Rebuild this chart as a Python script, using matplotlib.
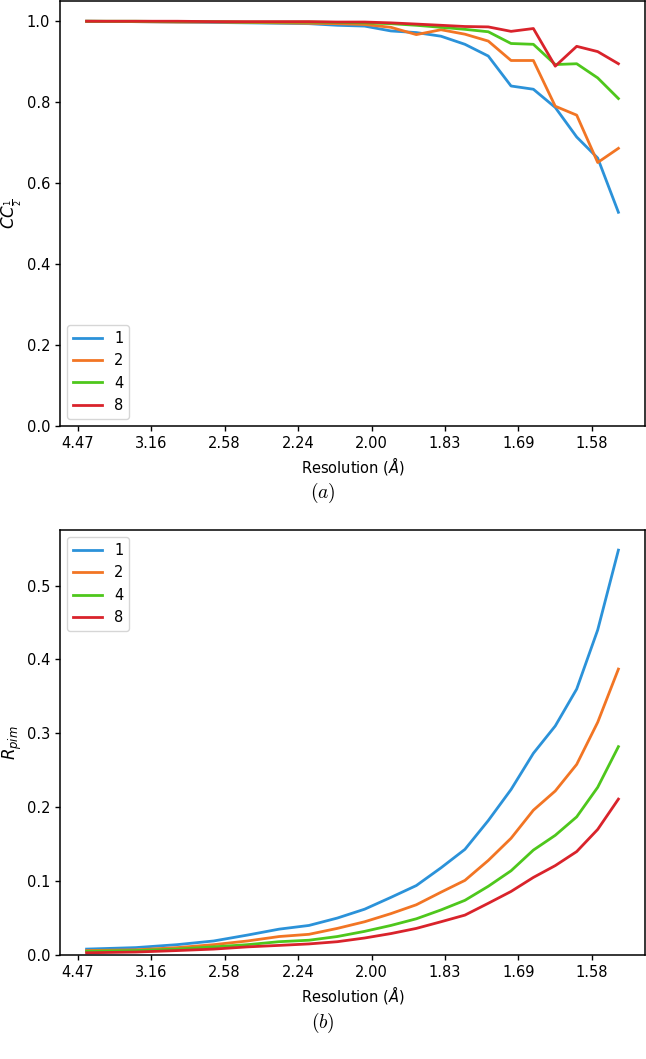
import numpy as np
import matplotlib
matplotlib.use("Agg")
import matplotlib.pyplot as plt

# x positions: bin centres in 1/d^2 (Å^-2)
inv_d2 = [0.0560, 0.0895, 0.1176, 0.1426, 0.1656, 0.1871, 0.2074, 0.2267, 0.2453, 0.2632,
          0.2805, 0.2973, 0.3136, 0.3295, 0.3450, 0.3602, 0.3751, 0.3897, 0.4040, 0.4181]

series_labels = ["1", "2", "4", "8"]

cc_1 = [1.000, 0.999, 0.998, 0.997, 0.996, 0.995, 0.994, 0.990, 0.988, 0.976,
        0.972, 0.963, 0.943, 0.914, 0.840, 0.832, 0.787, 0.714, 0.662, 0.528]
cc_2 = [1.000, 0.999, 0.998, 0.998, 0.997, 0.996, 0.995, 0.994, 0.992, 0.985,
        0.967, 0.979, 0.968, 0.951, 0.903, 0.903, 0.790, 0.768, 0.651, 0.686]
cc_4 = [1.000, 1.000, 0.999, 0.999, 0.998, 0.998, 0.998, 0.997, 0.996, 0.994,
        0.990, 0.985, 0.980, 0.974, 0.945, 0.943, 0.893, 0.895, 0.860, 0.809]
cc_8 = [1.000, 1.000, 1.000, 0.999, 0.999, 0.999, 0.999, 0.998, 0.998, 0.996,
        0.993, 0.990, 0.987, 0.986, 0.975, 0.982, 0.889, 0.938, 0.925, 0.895]

rpim_1 = [0.008, 0.010, 0.014, 0.019, 0.027, 0.035, 0.040, 0.050, 0.062, 0.078,
          0.094, 0.118, 0.143, 0.182, 0.224, 0.273, 0.310, 0.360, 0.440, 0.548]
rpim_2 = [0.006, 0.007, 0.010, 0.014, 0.019, 0.025, 0.028, 0.036, 0.045, 0.056,
          0.068, 0.085, 0.101, 0.128, 0.158, 0.196, 0.222, 0.258, 0.315, 0.387]
rpim_4 = [0.005, 0.006, 0.008, 0.011, 0.014, 0.018, 0.020, 0.025, 0.032, 0.040,
          0.049, 0.061, 0.074, 0.093, 0.114, 0.142, 0.162, 0.187, 0.227, 0.282]
rpim_8 = [0.003, 0.004, 0.006, 0.008, 0.011, 0.013, 0.015, 0.018, 0.023, 0.029,
          0.036, 0.045, 0.054, 0.070, 0.086, 0.105, 0.121, 0.140, 0.170, 0.211]

tick_pos = [0.05, 0.10, 0.15, 0.20, 0.25, 0.30, 0.35, 0.40]
tick_labels = ["4.47", "3.16", "2.58", "2.24", "2.00", "1.83", "1.69", "1.58"]

colors = ["#2b92d9", "#f27524", "#4ec71c", "#d9232b"]

W, H = 646, 1059
fig = plt.figure(figsize=(W / 100, H / 100), dpi=100)
plt.rcParams['font.family'] = ['DejaVu Sans']

ax1 = fig.add_axes([60 / W, 1 - 426 / H, 585 / W, 425 / H])
ax2 = fig.add_axes([60 / W, 1 - 955 / H, 585 / W, 425 / H])

for ys, c, lab in zip([cc_1, cc_2, cc_4, cc_8], colors, series_labels):
    ax1.plot(inv_d2, ys, color=c, lw=2.0, label=lab)
for ys, c, lab in zip([rpim_1, rpim_2, rpim_4, rpim_8], colors, series_labels):
    ax2.plot(inv_d2, ys, color=c, lw=2.0, label=lab)

ax1.set_ylim(0, 1.05)
ax2.set_ylim(bottom=0)
for ax in (ax1, ax2):
    ax.set_xticks(tick_pos)
    ax.set_xticklabels(tick_labels)
    ax.set_xlabel(r"Resolution ($\AA$)", fontsize=10.5, labelpad=3)
    ax.tick_params(labelsize=10.5, width=1.0)
    for s in ax.spines.values():
        s.set_linewidth(1.1)

ax1.set_yticks([0.0, 0.2, 0.4, 0.6, 0.8, 1.0])
ax2.set_yticks([0.0, 0.1, 0.2, 0.3, 0.4, 0.5])
ax1.set_ylabel(r"$CC_{\frac{1}{2}}$", fontsize=12, labelpad=2)
ax2.set_ylabel(r"$R_{pim}$", fontsize=12, labelpad=2)

ax1.legend(loc="lower left", fontsize=10.5)
ax2.legend(loc="upper left", fontsize=10.5)

fig.text(0.5, 1 - 493 / H, r"$(a)$", math_fontfamily="cm", fontsize=14,
         ha="center", va="center")
fig.text(0.5, 1 - 1023 / H, r"$(b)$", math_fontfamily="cm", fontsize=14,
         ha="center", va="center")

fig.savefig("out.png", dpi=100)
